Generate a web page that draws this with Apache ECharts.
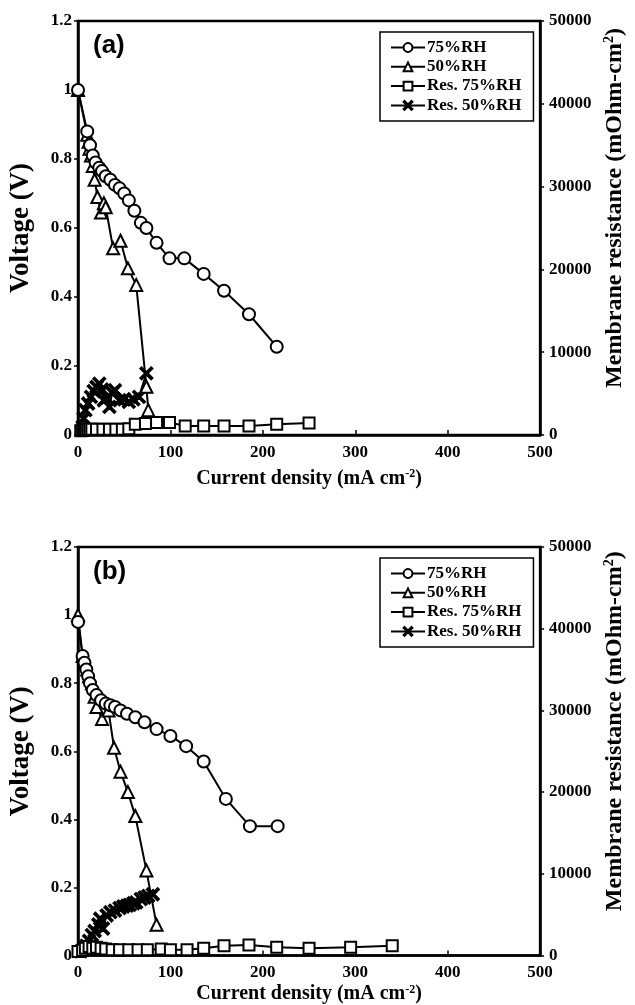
<!DOCTYPE html>
<html><head><meta charset="utf-8">
<script src="https://cdn.jsdelivr.net/npm/echarts@6/dist/echarts.min.js"></script>
<style>html,body{margin:0;padding:0;background:#fff}#c{width:635px;height:1005px}</style>
</head><body><div id="c"></div>
<script>
// ---- data (x: current density mA/cm2) ----
const seriesNames = ['75%RH', '50%RH', 'Res. 75%RH', 'Res. 50%RH'];
const xTicks = [0, 100, 200, 300, 400, 500];
// Panel (a): voltage (V)
const a_v75 = [[0,1.0],[10,0.88],[13,0.84],[16,0.81],[19,0.79],[23,0.775],[26,0.765],[30,0.75],[35,0.74],[40,0.725],[45,0.715],[50,0.70],[55,0.68],[61,0.65],[68,0.615],[74,0.60],[85,0.557],[99,0.512],[115,0.512],[136,0.467],[158,0.418],[185,0.35],[215,0.256]];
const a_v50 = [[0,1.0],[10,0.87],[11.5,0.85],[12.5,0.83],[14,0.81],[16,0.78],[18,0.74],[21,0.69],[25,0.645],[28,0.672],[30,0.66],[38,0.541],[46,0.563],[54,0.483],[63,0.435],[74,0.14],[76,0.072]];
// Panel (a): membrane resistance (mOhm-cm2)
const a_r75 = [[3,500],[5,600],[7,600],[9,650],[11,650],[13,700],[15,700],[20,700],[27,700],[34,700],[41,700],[48,700],[55,750],[62,1300],[73,1400],[85,1500],[99,1500],[116,1100],[136,1100],[158,1100],[185,1100],[215,1300],[250,1450]];
const a_r50 = [[5,1000],[6,2000],[8,3000],[11,3800],[14,4600],[17,5300],[20,5800],[23,6200],[26,5500],[28,4200],[31,4500],[34,3400],[37,5100],[40,5400],[45,4200],[50,4300],[55,4000],[60,4300],[66,4600],[74,7450]];
// Panel (b): voltage (V)
const b_v75 = [[0,0.98],[5,0.88],[7,0.86],[9,0.84],[11,0.82],[13,0.80],[16,0.78],[20,0.765],[25,0.75],[30,0.74],[35,0.735],[40,0.73],[46,0.72],[53,0.71],[62,0.70],[72,0.685],[85,0.665],[100,0.645],[117,0.615],[136,0.57],[160,0.46],[186,0.38],[216,0.38]];
const b_v50 = [[0,1.0],[5,0.88],[8,0.86],[10,0.84],[12,0.82],[15,0.80],[18,0.76],[20,0.73],[26,0.695],[33,0.72],[39,0.61],[46,0.54],[54,0.48],[62,0.41],[74,0.25],[85,0.09]];
// Panel (b): membrane resistance (mOhm-cm2)
const b_r75 = [[0,500],[5,600],[8,900],[12,1100],[16,900],[20,1000],[25,900],[30,800],[37,700],[45,700],[55,700],[65,700],[75,700],[90,800],[100,700],[118,700],[136,900],[158,1200],[185,1300],[215,1000],[250,900],[295,1000],[340,1200]];
const b_r50 = [[3,500],[6,800],[9,1200],[12,1800],[15,2500],[18,3000],[22,3800],[24,4500],[27,3300],[31,4900],[35,5300],[40,5500],[45,5800],[49,6000],[53,6100],[56,6200],[60,6400],[63,6500],[68,6900],[72,7100],[76,7300],[81,7500]];

const FONT = '"Liberation Serif","DejaVu Serif",serif';
const crossPath = 'path://M0,1L1,0L5,4L9,0L10,1L6,5L10,9L9,10L5,6L1,10L0,9L4,5Z';
const symbols = ['emptyCircle', 'emptyTriangle', 'emptyRect', crossPath];
const sizes = [12, 12, 11, 12];

const panels = [
  {top: 21, label: '(a)', data: [a_v75, a_v50, a_r75, a_r50], xGap: 33},
  {top: 547, label: '(b)', data: [b_v75, b_v50, b_r75, b_r50], xGap: 28}
];

const grid = [], xAxis = [], yAxis = [], series = [], legend = [], graphic = [];
const lblStyle = {fontFamily: FONT, fontWeight: 'bold', fontSize: 17, color: '#000'};
const supRich = size => ({
  t: {fontFamily: FONT, fontWeight: 'bold', fontSize: size, color: '#000'},
  s: {fontFamily: FONT, fontWeight: 'bold', fontSize: Math.round(size * 0.6), color: '#000', verticalAlign: 'top', padding: [0, 0, Math.round(size * 0.45), 0]}
});
panels.forEach((p, i) => {
  grid.push({left: 77, top: p.top, width: 468, height: 414, show: true, borderColor: '#000', borderWidth: 2.5, backgroundColor: 'transparent'});
  xAxis.push({
    type: 'value', gridIndex: i, min: xTicks[0], max: xTicks[xTicks.length - 1], interval: 100,
    splitLine: {show: false},
    axisLine: {lineStyle: {color: '#000', width: 2.5}},
    axisTick: {inside: true, length: 5, lineStyle: {color: '#000', width: 1.5}},
    axisLabel: Object.assign({margin: 9}, lblStyle),
    name: '{t|Current density (mA cm}{s|-2}{t|)}', nameLocation: 'middle', nameGap: p.xGap,
    nameTextStyle: {rich: supRich(20)}
  });
  yAxis.push({
    type: 'value', gridIndex: i, position: 'left', min: 0, max: 1.2, interval: 0.2,
    splitLine: {show: false},
    axisLine: {show: true, lineStyle: {color: '#000', width: 2.5}},
    axisTick: {show: true, length: 4, lineStyle: {color: '#000', width: 1.5}},
    axisLabel: Object.assign({margin: 6, formatter: v => String(+v.toFixed(1))}, lblStyle),
    name: 'Voltage (V)', nameLocation: 'middle', nameGap: 43, nameRotate: 90,
    nameTextStyle: {fontFamily: FONT, fontWeight: 'bold', fontSize: 27, color: '#000'}
  });
  yAxis.push({
    type: 'value', gridIndex: i, position: 'right', min: 0, max: 50000, interval: 10000,
    splitLine: {show: false},
    axisLine: {show: true, lineStyle: {color: '#000', width: 2.5}},
    axisTick: {show: true, length: 4, lineStyle: {color: '#000', width: 1.5}},
    axisLabel: Object.assign({margin: 9, formatter: v => String(v)}, lblStyle),
    name: '{t|Membrane resistance (mOhm-cm}{s|2}{t|)}', nameLocation: 'middle', nameGap: 62, nameRotate: 90,
    nameTextStyle: {rich: supRich(24), padding: [0, 0, 0, 40]}
  });
  p.data.forEach((d, k) => {
    series.push({
      name: seriesNames[k], type: 'line', xAxisIndex: i, yAxisIndex: i * 2 + (k < 2 ? 0 : 1),
      data: d, symbol: symbols[k], symbolSize: sizes[k], showAllSymbol: true,
      lineStyle: {color: '#000', width: 2},
      itemStyle: {color: '#000', borderColor: '#000', borderWidth: 2},
      z: 10 - k, animation: false
    });
  });
  legend.push({
    data: seriesNames, orient: 'vertical', left: 380, top: p.top + 11,
    itemWidth: 34, itemHeight: 11, itemGap: 2.3,
    padding: [7, 12, 7, 10], borderColor: '#000', borderWidth: 1.5,
    textStyle: {fontFamily: FONT, fontWeight: 'bold', fontSize: 17, lineHeight: 17, color: '#000', padding: [0, 0, 0, -3]},
    selectedMode: false
  });
  graphic.push({type: 'text', left: 93, top: p.top + 12,
    style: {text: p.label, fontFamily: '"Liberation Sans",Arial,sans-serif', fontWeight: 'bold', fontSize: 26, fill: '#000'}});
});

const chart = echarts.init(document.getElementById('c'), null, {renderer: 'canvas'});
chart.setOption({animation: false, grid, xAxis, yAxis, series, legend, graphic});
</script></body></html>
